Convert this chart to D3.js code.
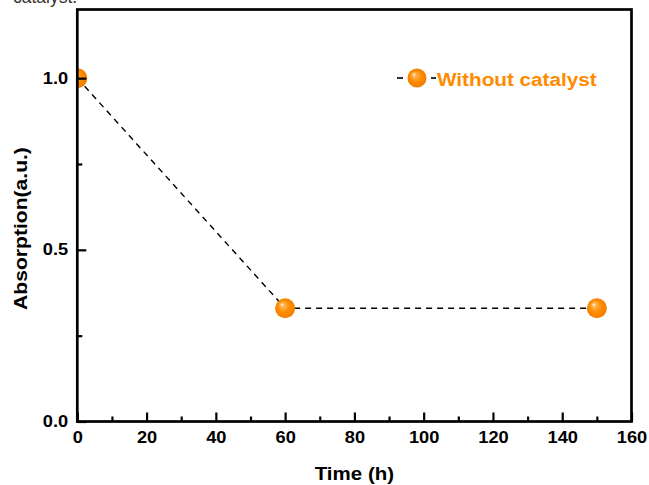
<!DOCTYPE html>
<html>
<head>
<meta charset="utf-8">
<script src="https://cdn.jsdelivr.net/npm/d3@7"></script>
<style>
  html, body { margin: 0; padding: 0; background: #fff; }
  svg { display: block; }
  text { font-family: "Liberation Sans", Arial, sans-serif; }
</style>
</head>
<body>
<svg id="chart" width="649" height="485"></svg>
<script>
// Absorption measured over time without a catalyst
const timeHours = [0, 60, 150];
const absorption = [1.0, 0.33, 0.33];
const seriesName = "Without catalyst";
const xTickValues = [0, 20, 40, 60, 80, 100, 120, 140, 160];
const yTickValues = [0.0, 0.5, 1.0];
const xMinorTicks = [10, 30, 50, 70, 90, 110, 130, 150];
const yMinorTicks = [0.25, 0.75];

const W = 649, H = 485;
const margin = { left: 77.3, right: 17.5, top: 9.5, bottom: 63.5 };
const orange = "#ff8a00";
const stretch = 1.14; // glyphs run a little wide

const svg = d3.select("#chart");

// caption fragment running off the top edge
svg.append("text")
  .attr("x", 13).attr("y", 3)
  .attr("font-family", "'Open Sans', sans-serif")
  .attr("font-size", 17.5)
  .attr("fill", "#333")
  .text("catalyst.");

const x = d3.scaleLinear().domain([0, 160]).range([margin.left, W - margin.right]);
const y = d3.scaleLinear().domain([0, 1.2]).range([H - margin.bottom, margin.top]);

// sphere-like marker fill
const defs = svg.append("defs");
const grad = defs.append("radialGradient")
  .attr("id", "ball").attr("cx", "0.5").attr("cy", "0.5").attr("r", "0.5")
  .attr("fx", "0.33").attr("fy", "0.3");
grad.append("stop").attr("offset", "0%").attr("stop-color", "#fff4e4");
grad.append("stop").attr("offset", "22%").attr("stop-color", "#ffb04a");
grad.append("stop").attr("offset", "60%").attr("stop-color", "#ff8c00");
grad.append("stop").attr("offset", "100%").attr("stop-color", "#f27d00");

defs.append("clipPath").attr("id", "plotClip")
  .append("rect")
  .attr("x", margin.left).attr("y", margin.top)
  .attr("width", W - margin.right - margin.left)
  .attr("height", H - margin.bottom - margin.top);

const pts = timeHours.map((t, i) => ({ t, v: absorption[i] }));

const plot = svg.append("g").attr("clip-path", "url(#plotClip)");

plot.append("path")
  .datum(pts)
  .attr("fill", "none")
  .attr("stroke", "#000")
  .attr("stroke-width", 1.4)
  .attr("stroke-dasharray", "6,5")
  .attr("d", d3.line().x(d => x(d.t)).y(d => y(d.v)));

plot.selectAll("circle.pt")
  .data(pts)
  .enter().append("circle")
  .attr("class", "pt")
  .attr("cx", d => x(d.t)).attr("cy", d => y(d.v))
  .attr("r", 10)
  .attr("fill", "url(#ball)");

// axes: inward ticks on bottom and left
const xAxis = d3.axisBottom(x).tickValues(xTickValues).tickSize(-9).tickPadding(10.5).tickFormat(d3.format("d"));
const yAxis = d3.axisLeft(y).tickValues(yTickValues).tickSize(-9).tickPadding(8).tickFormat(d3.format(".1f"));

const gx = svg.append("g").attr("transform", `translate(0,${H - margin.bottom})`).call(xAxis);
const gy = svg.append("g").attr("transform", `translate(${margin.left},0)`).call(yAxis);

svg.append("g").attr("transform", `translate(0,${H - margin.bottom})`)
  .call(d3.axisBottom(x).tickValues(xMinorTicks).tickSize(-5).tickFormat(""));
svg.append("g").attr("transform", `translate(${margin.left},0)`)
  .call(d3.axisLeft(y).tickValues(yMinorTicks).tickSize(-5).tickFormat(""));

svg.selectAll(".domain").remove();
svg.selectAll(".tick line").attr("stroke", "#000").attr("stroke-width", 2.2);
[gx, gy].forEach(g => g.selectAll(".tick text")
  .attr("font-family", "'Liberation Sans', Arial, sans-serif")
  .attr("font-size", 16)
  .attr("font-weight", "bold")
  .attr("fill", "#000")
  .attr("transform", `scale(${stretch},1)`));

// frame
svg.append("rect")
  .attr("x", margin.left).attr("y", margin.top)
  .attr("width", W - margin.right - margin.left)
  .attr("height", H - margin.bottom - margin.top)
  .attr("fill", "none").attr("stroke", "#000").attr("stroke-width", 2.7);

// axis titles
svg.append("text")
  .attr("transform", `translate(${(margin.left + W - margin.right) / 2},480) scale(${stretch},1)`)
  .attr("text-anchor", "middle")
  .attr("font-size", 18).attr("font-weight", "bold")
  .text("Time (h)");

svg.append("text")
  .attr("transform", `translate(27,228.5) rotate(-90) scale(${stretch},1)`)
  .attr("text-anchor", "middle")
  .attr("font-size", 18.5).attr("font-weight", "bold")
  .text("Absorption(a.u.)");

// legend
const lg = svg.append("g").attr("transform", "translate(417,78)");
lg.append("line").attr("x1", -20).attr("x2", -14).attr("y1", 0).attr("y2", 0)
  .attr("stroke", "#000").attr("stroke-width", 1.6);
lg.append("line").attr("x1", 14).attr("x2", 19).attr("y1", 0).attr("y2", 0)
  .attr("stroke", "#000").attr("stroke-width", 1.6);
lg.append("circle").attr("r", 9.5).attr("fill", "url(#ball)");
lg.append("text")
  .attr("transform", "translate(20,8) scale(1.12,1)")
  .attr("font-size", 18.5).attr("font-weight", "bold")
  .attr("fill", orange)
  .text(seriesName);
</script>
</body>
</html>
